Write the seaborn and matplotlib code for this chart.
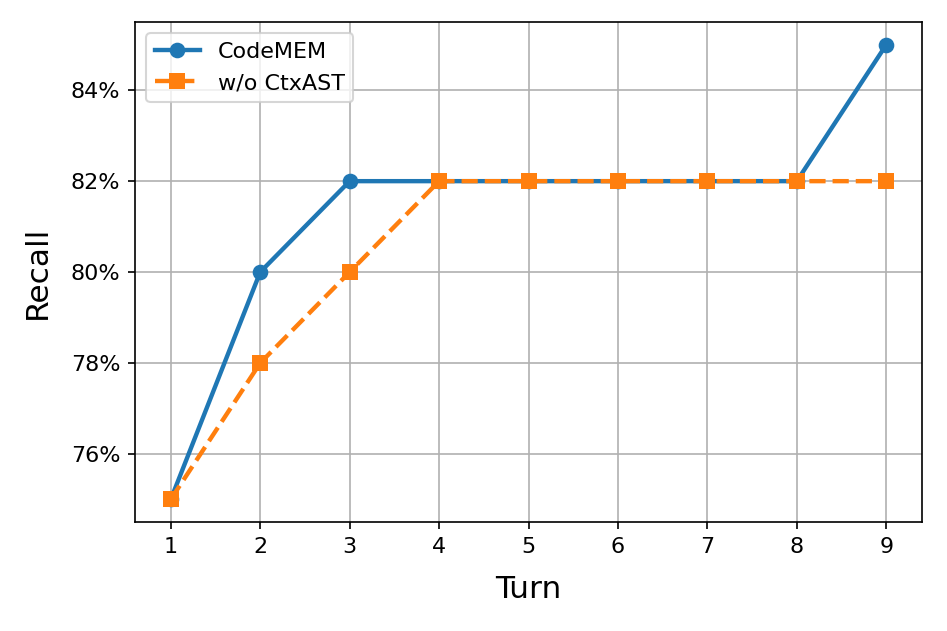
import matplotlib
matplotlib.use("Agg")
import matplotlib.pyplot as plt
import seaborn as sns
import pandas as pd
from matplotlib.ticker import PercentFormatter

turns = [1, 2, 3, 4, 5, 6, 7, 8, 9]
codemem = [0.75, 0.80, 0.82, 0.82, 0.82, 0.82, 0.82, 0.82, 0.85]
wo_ctxast = [0.75, 0.78, 0.80, 0.82, 0.82, 0.82, 0.82, 0.82, 0.82]

df = pd.DataFrame({"Turn": turns, "CodeMEM": codemem, "w/o CtxAST": wo_ctxast})

fig, ax = plt.subplots(figsize=(947 / 150, 631 / 150), dpi=150)
fig.subplots_adjust(left=0.1426, right=0.9736, top=0.965, bottom=0.1727)

sns.lineplot(data=df, x="Turn", y="CodeMEM", ax=ax, color="#1f77b4",
             marker="o", markersize=7.5, linewidth=2.1, markeredgewidth=0,
             label="CodeMEM")
sns.lineplot(data=df, x="Turn", y="w/o CtxAST", ax=ax, color="#ff7f0e",
             marker="s", markersize=7.5, linewidth=2.1, linestyle="--",
             markeredgewidth=0, label="w/o CtxAST")

ax.set_xticks(turns)
ax.yaxis.set_major_formatter(PercentFormatter(1, decimals=0))
ax.grid(True, color="#b0b0b0", linewidth=0.8)
ax.set_axisbelow(True)
ax.set_xlabel("Turn", fontsize=15, labelpad=9)
ax.set_ylabel("Recall", fontsize=15, labelpad=9)
ax.tick_params(labelsize=10.7)
ax.legend(loc="upper left", fontsize=10.7)

fig.savefig("out.png", dpi=150)
